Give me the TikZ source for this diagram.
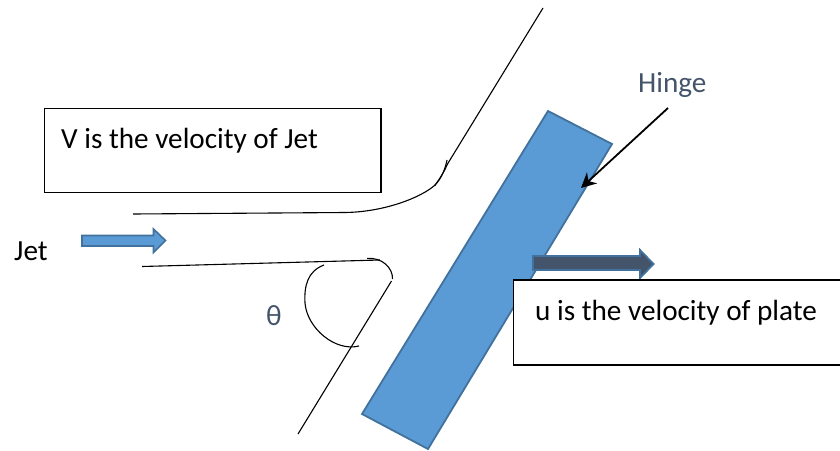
\documentclass[tikz,border=0pt]{standalone}
\usepackage{fontspec}
\setmainfont{Carlito}
\usetikzlibrary{arrows.meta}
\definecolor{fillblue}{HTML}{5B9BD5}
\definecolor{edgeblue}{HTML}{41719C}
\definecolor{slate}{HTML}{44546A}
\tikzset{
  x=1pt,y=-1pt,
  thin line/.style={draw=black,line width=1.1pt},
  label box/.style={draw=black,line width=1.7pt,fill=white},
  block/.style={fill=fillblue,draw=edgeblue,line width=1.8pt,line join=miter},
  caption/.style={font=\fontsize{29.2}{33}\selectfont,text=black,inner sep=0pt,anchor=base west},
  note/.style={font=\fontsize{29.2}{33}\selectfont,text=slate,inner sep=0pt,anchor=base west},
}
\begin{document}
\begin{tikzpicture}
\useasboundingbox (0,0) rectangle (840,450);
\coordinate (hingeTail) at (668,108);
\coordinate (hingeTip) at (581,188);
% plate
\draw[block] (548,111) -- (612,144) -- (428,449) -- (362,414) -- cycle;
% label boxes
\draw[label box] (44.5,108.5) rectangle (381,192.5);
% upper stream line
\draw[thin line] (133,214) -- (345,212.5) .. controls (385,212) and (422,197) .. (435,185) .. controls (441,179) and (445,170) .. (447,160);
\draw[thin line] (434.5,186) .. controls (441,177) and (445,170) .. (447.5,164) -- (543,8);
% lower stream line
\draw[thin line] (142,266.5) -- (380,260);
\draw[thin line] (367,258.5) .. controls (382,257) and (393,268) .. (392.5,279);
\draw[thin line] (391.5,281) -- (298,434);
% angle mark
\draw[thin line] (324,265) .. controls (308,271) and (304,285) .. (305,303) .. controls (307,328) and (335,352) .. (359,346);
% jet arrow
\draw[block,line width=1.6pt] (82,235.5) -- (153.5,235.5) -- (153.5,229) -- (165.5,240.5) -- (153.5,252.5) -- (153.5,246) -- (82,246) -- cycle;
% plate velocity arrow
\draw[fill=slate,draw=edgeblue,line width=1.8pt] (533,256) -- (640,256) -- (640,250) -- (653.5,264) -- (640,278) -- (640,270) -- (533,270) -- cycle;
\draw[label box] (513.5,280) rectangle (845,365);
% hinge arrow
\draw[line width=1.8pt,-{Stealth[length=15pt,width=15pt]}] (hingeTail) -- (hingeTip);
% labels
\node[caption] (velJet) at (61,148) {V is the velocity of Jet};
\node[caption] (jet) at (14,260.5) {Jet};
\node[caption] (velPlate) at (535,320) {u is the velocity of plate};
\node[note] (hinge) at (638,92) {Hinge};
\node[note] (theta) at (266,325) {θ};
\end{tikzpicture}
\end{document}
